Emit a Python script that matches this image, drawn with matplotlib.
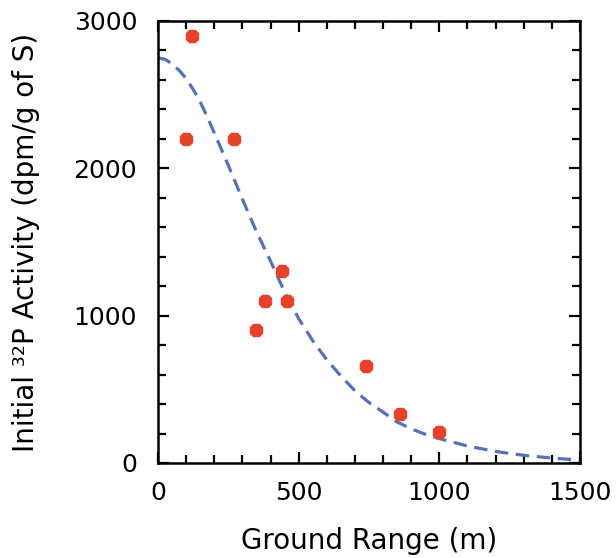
import numpy as np
import matplotlib
matplotlib.use("Agg")
import matplotlib.pyplot as plt
from matplotlib.ticker import MultipleLocator

plt.rcParams['font.family'] = ['DejaVu Sans']

# measured points
range_m = [100, 120, 270, 348, 380, 440, 460, 740, 860, 1000]
activity = [2200, 2900, 2200, 900, 1100, 1300, 1100, 660, 335, 210]

# fitted curve
fit_x = [0, 25, 50, 75, 100, 125, 150, 175, 200, 250, 300, 350, 400, 450, 500,
         550, 600, 650, 700, 750, 800, 850, 900, 950, 1000, 1100, 1200, 1300,
         1400, 1500]
fit_y = [2750, 2740, 2710, 2665, 2610, 2535, 2450, 2350, 2240, 2020, 1790, 1570,
         1370, 1160, 980, 830, 700, 590, 490, 410, 345, 278, 232, 195, 165, 115,
         78, 52, 33, 20]

fig = plt.figure(figsize=(6.16, 5.58), dpi=100)
ax = fig.add_axes([0.2565, 0.1703, 0.6851, 0.7921])

ax.plot(fit_x, fit_y, color='#5571b9', lw=2.3, dashes=(4.2, 2.4), zorder=2)
ax.plot(range_m, activity, linestyle='none', marker='8', ms=10,
        color='#e8412b', mec='#e8412b', zorder=3)

ax.set_xlim(0, 1500)
ax.set_ylim(0, 3000)
ax.xaxis.set_major_locator(MultipleLocator(500))
ax.xaxis.set_minor_locator(MultipleLocator(100))
ax.yaxis.set_major_locator(MultipleLocator(1000))
ax.yaxis.set_minor_locator(MultipleLocator(200))

ax.tick_params(which='both', direction='in', top=True, right=True,
               width=1.6, labelsize=18)
ax.tick_params(which='major', length=8)
ax.tick_params(which='minor', length=6)
ax.tick_params(axis='x', which='major', pad=13)
ax.tick_params(axis='y', which='major', pad=15)
for s in ax.spines.values():
    s.set_linewidth(1.8)

ax.set_xlabel('Ground Range (m)', fontsize=20, labelpad=16)
ax.set_ylabel('Initial \u00b3\u00b2P Activity (dpm/g of S)', fontsize=20, labelpad=24)

fig.savefig('out.png', dpi=100)
